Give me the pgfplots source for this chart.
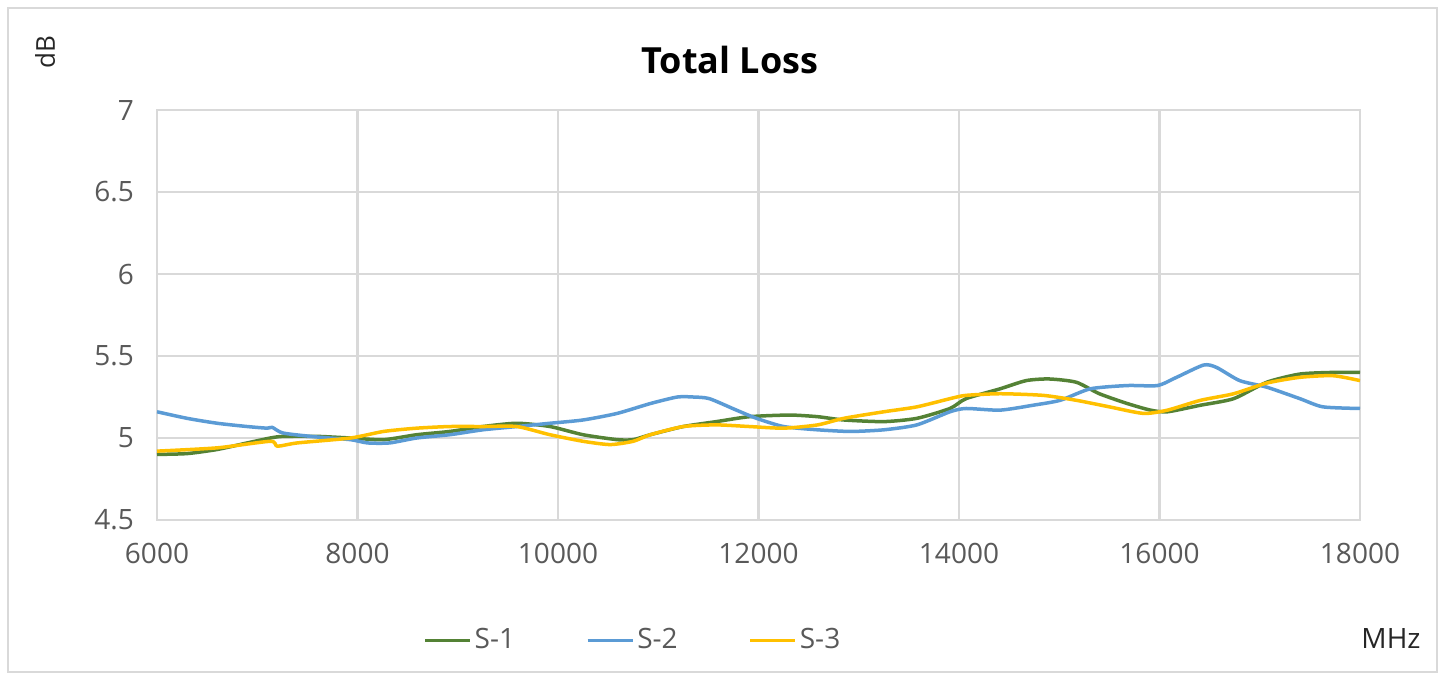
\documentclass[border=0pt]{standalone}
\usepackage{pgfplots}
\pgfplotsset{compat=1.18}
\usepackage{fontspec}
\setmainfont{Open Sans}
\definecolor{cgreen}{HTML}{548235}
\definecolor{cblue}{HTML}{5B9BD5}
\definecolor{cyellow}{HTML}{FFC000}
\definecolor{ctext}{HTML}{595959}
\definecolor{cgrid}{HTML}{D9D9D9}
\begin{document}
\begin{tikzpicture}
\begin{scope}[x=0.5pt,y=-0.5pt]
\useasboundingbox (0,0) rectangle (1442,676);
\draw[cgrid, line width=1pt] (8,8) rectangle (1437,672);
\node[font=\bfseries\fontsize{18}{20}\selectfont] at (730,60) {Total Loss};
\node[rotate=90, font=\fontsize{13}{15}\selectfont, text=black!85] at (45,52) {dB};
\node[font=\fontsize{14}{16}\selectfont, text=black!85] at (1391,638) {MHz};
\end{scope}
\begin{axis}[at={(78.5pt,-260pt)}, anchor=south west, scale only axis,
  width=601.5pt, height=205pt,
  xmin=6000, xmax=18000, ymin=4.5, ymax=7,
  xtick={6000,8000,...,18000}, ytick={4.5,5,...,7},
  grid=major, major grid style={cgrid, line width=1.2pt},
  axis line style={cgrid, line width=1.2pt},
  tick style={draw=none},
  scaled x ticks=false,
  ticklabel style={font=\fontsize{14}{16}\selectfont, text=ctext},
  /pgf/number format/assume math mode=true,
  x tick label style={/pgf/number format/1000 sep={}, yshift=-8pt},
  y tick label style={/pgf/number format/.cd, fixed, precision=1, /tikz/.cd, xshift=-8pt},
  legend style={at={(0.396,-0.293)}, anchor=center, draw=none, fill=none,
    legend columns=3, font=\fontsize{14}{16}\selectfont, text=ctext,
    nodes={inner xsep=1.5pt},
    /tikz/every even column/.append style={column sep=34pt}},
  legend image code/.code={\draw[#1, line width=1.6pt] (0pt,0pt) -- (22.5pt,0pt);},
  every axis plot/.append style={line width=1.75pt, line join=round, mark=none, smooth, tension=0.4},
]
\addplot[cgreen] coordinates {
(6000,4.90)(6300,4.905)(6600,4.93)(6900,4.97)(7130,5.00)(7260,5.01)(7600,5.01)(7930,5.00)(8260,4.99)(8590,5.02)(8920,5.04)(9250,5.07)(9590,5.09)(9920,5.07)(10250,5.02)(10590,4.99)(10750,4.99)(10920,5.02)(11250,5.07)(11580,5.10)(11910,5.13)(12310,5.14)(12590,5.13)(12850,5.11)(13250,5.10)(13580,5.12)(13910,5.18)(14070,5.24)(14410,5.30)(14670,5.35)(14900,5.36)(15170,5.34)(15400,5.27)(15680,5.21)(15910,5.17)(16080,5.16)(16410,5.20)(16740,5.24)(17070,5.34)(17400,5.39)(17730,5.40)(18000,5.40)
};
\addlegendentry{S-1}
\addplot[cblue] coordinates {
(6000,5.16)(6300,5.12)(6600,5.09)(6900,5.07)(7100,5.06)(7150,5.065)(7260,5.03)(7600,5.006)(7930,4.99)(8100,4.97)(8320,4.97)(8590,5.00)(8920,5.02)(9250,5.05)(9590,5.07)(9920,5.09)(10250,5.11)(10590,5.15)(10920,5.21)(11190,5.25)(11350,5.25)(11510,5.24)(11780,5.17)(11980,5.12)(12250,5.07)(12590,5.05)(12920,5.04)(13250,5.05)(13580,5.08)(13910,5.16)(14070,5.18)(14410,5.17)(14740,5.20)(15010,5.23)(15310,5.30)(15680,5.32)(15980,5.32)(16170,5.37)(16440,5.445)(16570,5.43)(16800,5.35)(17070,5.31)(17400,5.24)(17630,5.19)(18000,5.18)
};
\addlegendentry{S-2}
\addplot[cyellow] coordinates {
(6000,4.92)(6600,4.94)(7130,4.98)(7200,4.95)(7400,4.97)(7930,5.00)(8260,5.04)(8590,5.06)(8920,5.07)(9250,5.07)(9590,5.07)(9920,5.02)(10250,4.98)(10520,4.96)(10750,4.98)(10920,5.02)(11250,5.07)(11580,5.08)(11910,5.07)(12250,5.06)(12590,5.08)(12850,5.12)(13250,5.16)(13580,5.19)(13910,5.24)(14070,5.26)(14410,5.27)(14840,5.26)(15170,5.23)(15500,5.19)(15840,5.15)(16080,5.17)(16410,5.23)(16740,5.27)(17070,5.335)(17400,5.37)(17730,5.38)(18000,5.35)
};
\addlegendentry{S-3}
\end{axis}
\end{tikzpicture}
\end{document}
